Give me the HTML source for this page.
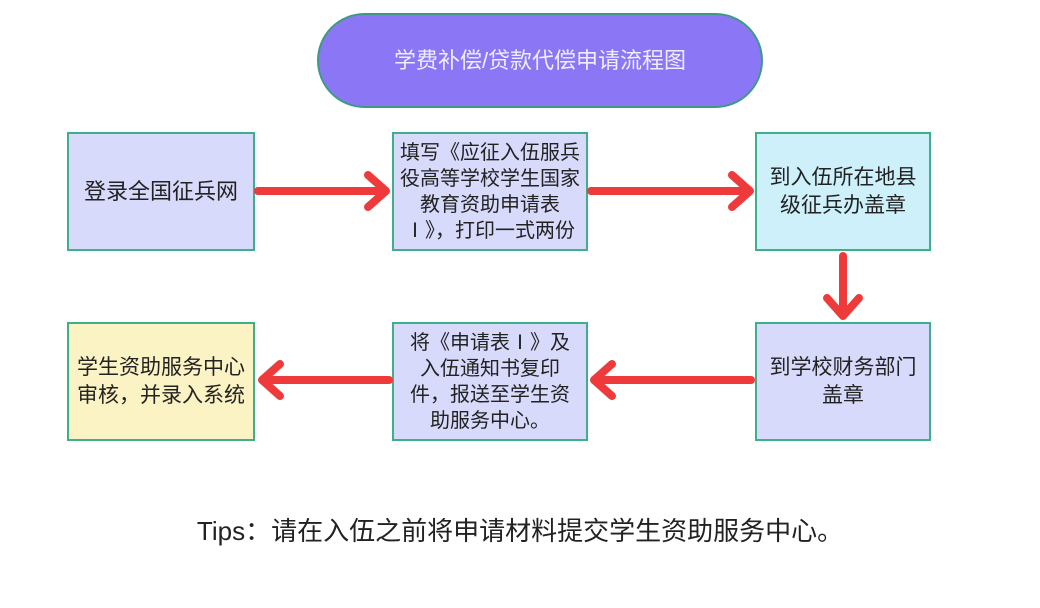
<!DOCTYPE html>
<html><head><meta charset="utf-8"><style>
body{margin:0;width:1040px;height:608px;background:#fff;position:relative;overflow:hidden;font-family:"Liberation Sans","Noto Sans CJK SC",sans-serif;}
.b{position:absolute;box-sizing:border-box;border:2px solid #3fae8a;display:flex;align-items:center;justify-content:center;text-align:center;font-size:20px;line-height:26px;color:#222;}
.l{background:#d8dafb}
</style></head><body>
<div class="b" style="left:317px;top:13px;width:446px;height:95px;border-radius:48px;background:#8b77f5;color:#eef;font-size:22px;border-color:#3e9a86">学费补偿/贷款代偿申请流程图</div>
<div class="b l" style="left:67px;top:132px;width:188px;height:119px;font-size:22px">登录全国征兵网</div>
<div class="b l" style="left:392px;top:132px;width:196px;height:119px;padding:0 6px">填写《应征入伍服兵役高等学校学生国家教育资助申请表Ⅰ》，打印一式两份</div>
<div class="b" style="left:755px;top:132px;width:176px;height:119px;background:#cdf0fb;padding:0 10px;font-size:21px;line-height:28px">到入伍所在地县级征兵办盖章</div>
<div class="b" style="left:67px;top:322px;width:188px;height:119px;background:#fcf3c4;padding:0 6px;font-size:21px;line-height:28px">学生资助服务中心审核，并录入系统</div>
<div class="b l" style="left:392px;top:322px;width:196px;height:119px;padding:0 12px">将《申请表Ⅰ》及入伍通知书复印件，报送至学生资助服务中心。</div>
<div class="b l" style="left:755px;top:322px;width:176px;height:119px;padding:0 10px;font-size:21px;line-height:28px">到学校财务部门盖章</div>
<svg width="1040" height="608" style="position:absolute;left:0;top:0" fill="none" stroke="#ee3a3a" stroke-width="8" stroke-linecap="round" stroke-linejoin="round">
<path d="M258 191H384M368 175L386 191L368 207"/>
<path d="M591 191H748M732 175L750 191L732 207"/>
<path d="M843 256V314M827 298L843 316L859 298"/>
<path d="M751 380H596M612 364L594 380L612 396"/>
<path d="M389 380H264M280 364L262 380L280 396"/>
</svg>
<div style="position:absolute;left:0;width:1040px;top:511px;text-align:center;font-size:26px;color:#222">Tips：请在入伍之前将申请材料提交学生资助服务中心。</div>
</body></html>
